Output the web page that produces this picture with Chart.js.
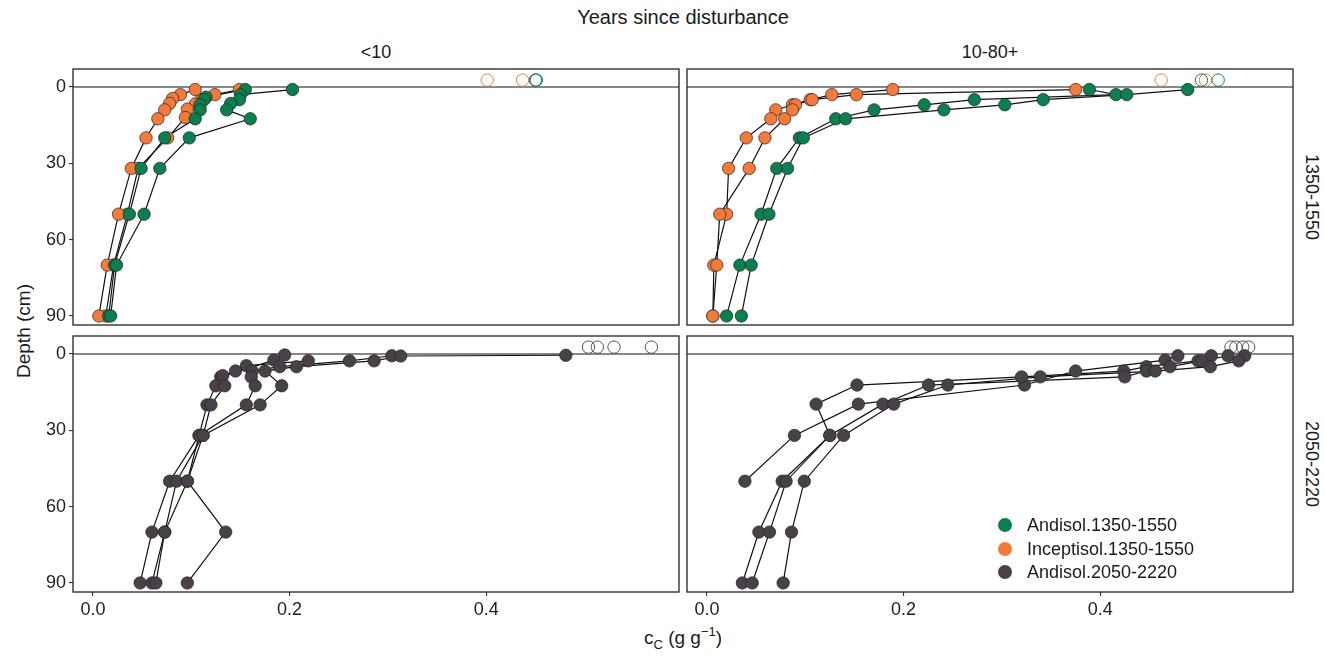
<!DOCTYPE html>
<html><head><meta charset="utf-8">
<script src="https://cdn.jsdelivr.net/npm/chart.js@4"></script>
<style>
body{margin:0;background:#fff;}
#wrap{position:relative;width:1325px;height:660px;overflow:hidden;font-family:"Liberation Sans",Arial,sans-serif;color:#1a1a1a;}
canvas{position:absolute;}
.t{position:absolute;transform:translate(-50%,-50%);white-space:nowrap;}
.leg{position:absolute;font-size:18px;white-space:nowrap;}
.dot{position:absolute;width:14px;height:14px;border-radius:50%;}
</style></head>
<body><div id="wrap">
<div class="t" style="left:683px;top:17px;font-size:20px;">Years since disturbance</div>
<div class="t" style="left:376px;top:52px;font-size:18px;">&lt;10</div>
<div class="t" style="left:990px;top:52px;font-size:18px;">10-80+</div>
<div class="t" style="left:1311px;top:197px;font-size:18px;transform:translate(-50%,-50%) rotate(90deg);">1350-1550</div>
<div class="t" style="left:1311px;top:464px;font-size:18px;transform:translate(-50%,-50%) rotate(90deg);">2050-2220</div>
<div class="t" style="left:24px;top:331px;font-size:19px;transform:translate(-50%,-50%) rotate(-90deg);">Depth (cm)</div>
<div class="t" style="left:683px;top:638px;font-size:19px;">c<sub style="font-size:13px;">C</sub> (g g<sup style="font-size:13px;">−1</sup>)</div>
</div>
<script>
// ---- data ----
const depthTicks = [0, 30, 60, 90];
const ccTicks = [0, 0.2, 0.4];
const seriesNames = ["Andisol.1350-1550", "Inceptisol.1350-1550", "Andisol.2050-2220"];
const seriesColors = ["#0B7F4F", "#F47A3A", "#4A4049"];
const openDepth = -2.7;

// <10, 1350-1550 : Andisol
const tlA1_depth = [1, 3, 5, 6.5, 9, 12.5, 20, 32, 50, 70, 90];
const tlA1_cc    = [0.203, 0.150, 0.149, 0.140, 0.136, 0.160, 0.098, 0.068, 0.052, 0.024, 0.018];
const tlA2_depth = [1, 4, 5, 7, 9, 12.5, 20, 32, 50, 70, 90];
const tlA2_cc    = [0.155, 0.115, 0.113, 0.109, 0.109, 0.104, 0.073, 0.049, 0.037, 0.022, 0.016];
// <10, 1350-1550 : Inceptisol
const tlI1_depth = [1, 3, 4.5, 6.5, 9, 12.5, 20, 32, 50, 70, 90];
const tlI1_cc    = [0.104, 0.089, 0.081, 0.078, 0.073, 0.066, 0.054, 0.039, 0.026, 0.0145, 0.006];
const tlI2_depth = [1, 3, 5, 6.7, 8.7, 12, 20, 32, 50, 70, 90];
const tlI2_cc    = [0.149, 0.124, 0.110, 0.104, 0.096, 0.094, 0.076, 0.046, 0.035, 0.021, 0.013];
const tlOpenA_cc = [0.451, 0.450];
const tlOpenI_cc = [0.401, 0.437];

// 10-80+, 1350-1550 : Andisol
const trA1_depth = [1, 3, 5, 7, 9, 12.5, 20, 32, 50, 70, 90];
const trA1_cc    = [0.489, 0.427, 0.342, 0.303, 0.241, 0.141, 0.098, 0.082, 0.063, 0.045, 0.035];
const trA2_depth = [1, 3, 5, 7, 9, 12.5, 20, 32, 50, 70, 90];
const trA2_cc    = [0.389, 0.416, 0.272, 0.221, 0.170, 0.131, 0.094, 0.071, 0.055, 0.0335, 0.020];
// 10-80+, 1350-1550 : Inceptisol
const trI1_depth = [1, 3, 5, 7, 9, 12.5, 20, 32, 50, 70, 90];
const trI1_cc    = [0.375, 0.152, 0.107, 0.090, 0.087, 0.079, 0.059, 0.043, 0.013, 0.010, 0.006];
const trI2_depth = [1, 3, 5, 7, 9, 12.5, 20, 32, 50, 70, 90];
const trI2_cc    = [0.189, 0.127, 0.105, 0.087, 0.070, 0.065, 0.040, 0.022, 0.020, 0.007, 0.006];
const trOpenA_cc = [0.503, 0.520];
const trOpenI_cc = [0.462, 0.507];

// <10, 2050-2220 : Andisol
const blA1_depth = [0.5, 0.8, 2.7, 5, 6.7, 12.5, 20, 32, 50, 70, 90];
const blA1_cc    = [0.481, 0.313, 0.286, 0.207, 0.175, 0.192, 0.170, 0.112, 0.096, 0.135, 0.096];
const blA2_depth = [0.7, 2.7, 5, 6.7, 9, 12.5, 20, 32, 50, 70, 90];
const blA2_cc    = [0.304, 0.261, 0.190, 0.162, 0.161, 0.165, 0.156, 0.108, 0.096, 0.073, 0.064];
const blA3_depth = [2.7, 4.6, 6.7, 8.5, 12.5, 20, 32, 50, 70, 90];
const blA3_cc    = [0.219, 0.156, 0.145, 0.132, 0.134, 0.120, 0.112, 0.085, 0.073, 0.060];
const blA4_depth = [0.4, 2.4, 9, 12.5, 20, 32, 50, 70, 90];
const blA4_cc    = [0.195, 0.184, 0.130, 0.125, 0.116, 0.108, 0.078, 0.060, 0.048];
const blOpen_cc  = [0.504, 0.513, 0.530, 0.568];

// 10-80+, 2050-2220 : Andisol
const brA1_depth = [0.7, 2.7, 5, 6.7, 9, 12.2, 19.7, 32, 50, 70, 90];
const brA1_cc    = [0.547, 0.541, 0.512, 0.456, 0.339, 0.245, 0.190, 0.139, 0.099, 0.086, 0.0775];
const brA2_depth = [0.7, 2.7, 5, 6.7, 9, 12.2, 19.7, 32, 50, 70, 90];
const brA2_cc    = [0.530, 0.5036, 0.471, 0.447, 0.425, 0.2254, 0.179, 0.125, 0.0805, 0.0636, 0.046];
const brA3_depth = [0.7, 2.7, 5, 6.7, 9, 12.2, 19.7, 32, 50, 70, 90];
const brA3_cc    = [0.513, 0.4995, 0.447, 0.424, 0.320, 0.1526, 0.111, 0.125, 0.0765, 0.0528, 0.036];
const brA4_depth = [0.7, 2.4, 6.7, 12.2, 19.7, 32, 50];
const brA4_cc    = [0.479, 0.466, 0.375, 0.323, 0.154, 0.089, 0.0386];
const brOpen_cc  = [0.533, 0.538, 0.545, 0.551];

// ---- build ----
const FONT = '"Liberation Sans", Arial, sans-serif';
const wrap = document.getElementById('wrap');
const PAD = 20;

function pts(cc, depth){ return cc.map((v,i)=>({x:v, y:depth[i]})); }
function profile(cc, depth, color){
  return [
    {data:pts(cc,depth), showLine:true, borderColor:'#111', borderWidth:1.2, pointRadius:0, order:3},
    {data:pts(cc,depth), showLine:false, pointRadius:6.2, pointHoverRadius:6.2, pointBackgroundColor:color, pointBorderColor:'#222', pointBorderWidth:0.7, order:1}
  ];
}
function openPts(cc, color){
  return {data:cc.map(v=>({x:v,y:openDepth})), showLine:false, pointRadius:6.2, pointBackgroundColor:'rgba(0,0,0,0)', pointBorderColor:color, pointBorderWidth:1, order:2};
}

const frame = {
  id:'frame',
  beforeDatasetsDraw(chart){
    const {ctx, chartArea:a, scales} = chart;
    const y0 = scales.y.getPixelForValue(0);
    ctx.save(); ctx.strokeStyle='#111'; ctx.lineWidth=1.2;
    ctx.beginPath(); ctx.moveTo(a.left,y0); ctx.lineTo(a.right,y0); ctx.stroke(); ctx.restore();
  },
  afterDraw(chart){
    const {ctx, chartArea:a} = chart;
    ctx.save(); ctx.strokeStyle='#222'; ctx.lineWidth=1.3;
    ctx.strokeRect(a.left, a.top, a.right-a.left, a.bottom-a.top); ctx.restore();
  }
};

function panel(L,T,R,B, showX, showY, datasets){
  const W=R-L, H=B-T;
  const c=document.createElement('canvas');
  c.width=W+70+PAD; c.height=H+40+PAD;
  c.style.left=(L-70)+'px'; c.style.top=(T-PAD)+'px';
  wrap.appendChild(c);
  new Chart(c,{
    type:'scatter',
    data:{datasets},
    options:{
      responsive:false, animation:false, devicePixelRatio:1,
      layout:{padding:{left:0,right:PAD,top:PAD,bottom:0}},
      plugins:{legend:{display:false}, tooltip:{enabled:false}},
      scales:{
        x:{type:'linear', position:'bottom', min:-0.0203, max:0.5961,
           afterBuildTicks:s=>{s.ticks=ccTicks.map(v=>({value:v}));},
           afterFit:s=>{s.height=40;},
           border:{display:false},
           grid:{display:showX, drawOnChartArea:false, drawTicks:true, tickLength:4, color:'#333', lineWidth:1.1},
           ticks:{display:showX, padding:3, color:'#222', font:{family:FONT,size:18}, maxRotation:0, callback:v=>Number(v).toFixed(1)}},
        y:{type:'linear', position:'left', reverse:true, min:-7.07, max:93.55,
           afterBuildTicks:s=>{s.ticks=depthTicks.map(v=>({value:v}));},
           afterFit:s=>{s.width=70;},
           border:{display:false},
           grid:{display:showY, drawOnChartArea:false, drawTicks:true, tickLength:4, color:'#333', lineWidth:1.1},
           ticks:{display:showY, padding:3, color:'#222', font:{family:FONT,size:18}, callback:v=>String(v)}}
      }
    },
    plugins:[frame]
  });
}

const [G,O,D] = seriesColors;
panel(73,69,679,325,false,true,[
  ...profile(tlA1_cc,tlA1_depth,G), ...profile(tlA2_cc,tlA2_depth,G),
  ...profile(tlI1_cc,tlI1_depth,O), ...profile(tlI2_cc,tlI2_depth,O),
  openPts(tlOpenA_cc,G), openPts(tlOpenI_cc,O)
]);
panel(687,69,1293,325,false,false,[
  ...profile(trA1_cc,trA1_depth,G), ...profile(trA2_cc,trA2_depth,G),
  ...profile(trI1_cc,trI1_depth,O), ...profile(trI2_cc,trI2_depth,O),
  openPts(trOpenA_cc,G), openPts(trOpenI_cc,O)
]);
panel(73,336,679,592,true,true,[
  ...profile(blA1_cc,blA1_depth,D), ...profile(blA2_cc,blA2_depth,D),
  ...profile(blA3_cc,blA3_depth,D), ...profile(blA4_cc,blA4_depth,D),
  openPts(blOpen_cc,'#555')
]);
panel(687,336,1293,592,true,false,[
  ...profile(brA1_cc,brA1_depth,D), ...profile(brA2_cc,brA2_depth,D),
  ...profile(brA3_cc,brA3_depth,D), ...profile(brA4_cc,brA4_depth,D),
  openPts(brOpen_cc,'#555')
]);

// legend (HTML)
const legY=[525,549,572];
seriesNames.forEach((n,i)=>{
  const d=document.createElement('div'); d.className='dot';
  d.style.left=(1005-7)+'px'; d.style.top=(legY[i]-7)+'px'; d.style.background=seriesColors[i];
  wrap.appendChild(d);
  const t=document.createElement('div'); t.className='leg'; t.textContent=n;
  t.style.left='1027px'; t.style.top=(legY[i]-11)+'px'; t.style.lineHeight='22px';
  wrap.appendChild(t);
});
</script>
</body></html>
